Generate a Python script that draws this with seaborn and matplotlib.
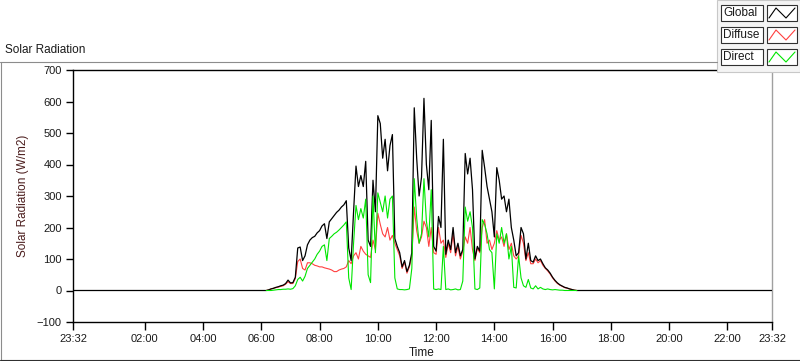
import numpy as np
import pandas as pd
import matplotlib
matplotlib.use("Agg")
import matplotlib.pyplot as plt
import matplotlib.dates as mdates
from matplotlib.ticker import FixedLocator
from matplotlib.lines import Line2D
from matplotlib.patches import Rectangle
import seaborn as sns

# Leituras a cada 5 min, 06:10 -> 16:50 (W/m2)
start_time = "2020-01-01 06:10"
step = "5min"
day_start = "2019-12-31 23:32"
day_end = "2020-01-01 23:32"

global_rad = [
    0, 2, 5, 7, 10, 12, 15, 17, 22, 33,
    24, 25, 42, 135, 138, 95, 110, 145, 160, 168,
    172, 183, 190, 205, 212, 165, 218, 228, 238, 248,
    255, 265, 272, 285, 135, 95, 250, 395, 330, 365,
    330, 410, 160, 140, 350, 250, 555, 530, 420, 480,
    380, 460, 495, 165, 140, 120, 75, 95, 60, 80,
    120, 580, 420, 300, 360, 610, 400, 320, 540, 140,
    125, 235, 200, 480, 115, 160, 130, 200, 120, 150,
    110, 130, 435, 370, 420, 320, 100, 140, 125, 445,
    390, 330, 290, 250, 170, 390, 350, 290, 300, 250,
    290, 200, 160, 110, 120, 200, 180, 100, 150, 95,
    90, 110, 95, 100, 85, 72, 65, 55, 42, 32,
    24, 18, 14, 10, 8, 5, 3, 1, 0,
]
diffuse_rad = [
    0, 2, 5, 7, 9, 11, 13, 15, 20, 28,
    22, 22, 38, 92, 100, 70, 65, 88, 88, 85,
    80, 78, 75, 75, 72, 70, 68, 65, 60, 60,
    65, 68, 70, 75, 95, 85, 110, 120, 100, 140,
    125, 115, 110, 105, 160, 130, 245, 210, 180, 170,
    200, 160, 175, 150, 130, 110, 70, 90, 55, 75,
    110, 265, 190, 150, 170, 220, 200, 140, 200, 120,
    115, 200, 150, 160, 105, 150, 120, 180, 110, 140,
    100, 125, 170, 150, 200, 130, 95, 135, 120, 200,
    225, 150, 160, 130, 150, 190, 160, 170, 140, 180,
    130, 150, 110, 100, 110, 175, 150, 95, 120, 85,
    85, 100, 88, 95, 80, 70, 62, 52, 40, 30,
    22, 17, 13, 9, 7, 5, 3, 1, 0,
]
direct_rad = [
    0, 0, 0, 1, 2, 3, 3, 4, 4, 5,
    4, 6, 15, 35, 42, 30, 45, 70, 80, 90,
    100, 115, 125, 140, 145, 95, 165, 172, 180, 185,
    192, 200, 208, 218, 40, 3, 150, 270, 225, 260,
    230, 290, 50, 25, 300, 120, 310, 280, 250, 300,
    230, 290, 300, 40, 5, 3, 3, 2, 3, 5,
    70, 355, 230, 150, 180, 355, 220, 170, 320, 5,
    3, 5, 3, 140, 3, 5, 2, 3, 5, 2,
    3, 30, 265, 220, 250, 200, 5, 3, 8, 225,
    210, 180, 130, 120, 5, 180, 150, 200, 150, 180,
    100, 140, 10, 8, 110, 40, 15, 10, 35, 8,
    5, 15, 5, 10, 5, 3, 5, 3, 2, 3,
    2, 1, 1, 0, 0, 0, 0, 0, 0,
]

sns.set_theme(style="white")
plt.rcParams["font.family"] = ["Liberation Sans", "DejaVu Sans"]
plt.rcParams["font.size"] = 8

times = pd.date_range(start_time, periods=len(global_rad), freq=step)
t0, t1 = pd.Timestamp(day_start), pd.Timestamp(day_end)

# Global: com zeros noturnos de ponta a ponta
df_global = pd.DataFrame({
    "time": [t0] + list(times) + [t1],
    "value": [0] + global_rad + [0],
})
df_diffuse = pd.DataFrame({"time": times, "value": diffuse_rad})
df_direct = pd.DataFrame({"time": times, "value": direct_rad})

W, H = 800, 361
fig = plt.figure(figsize=(W / 100, H / 100), dpi=100)
fig.patch.set_facecolor("white")
ax = fig.add_axes([73 / W, 1 - 322 / H, (772 - 73) / W, (322 - 70) / H])
ax.set_facecolor("white")

sns.lineplot(data=df_diffuse, x="time", y="value", color="#ff4040", lw=0.8,
             estimator=None, ax=ax, zorder=2)
sns.lineplot(data=df_global, x="time", y="value", color="black", lw=0.9,
             estimator=None, ax=ax, zorder=3)
sns.lineplot(data=df_direct, x="time", y="value", color="#00e600", lw=0.8,
             estimator=None, ax=ax, zorder=4)

ax.set_xlim(t0, t1)
ax.set_ylim(-100, 700)
ax.set_yticks(range(-100, 701, 100))

major = [t0] + list(pd.date_range("2020-01-01 02:00", "2020-01-01 22:00", freq="2h")) + [t1]
minor = pd.date_range("2019-12-31 23:45", "2020-01-01 23:30", freq="15min")
ax.xaxis.set_major_locator(FixedLocator(mdates.date2num(major)))
ax.xaxis.set_minor_locator(FixedLocator(mdates.date2num(minor)))
ax.xaxis.set_major_formatter(mdates.DateFormatter("%H:%M"))

ax.tick_params(axis="both", which="major", direction="out", length=5, width=1,
               color="black", labelsize=8, labelcolor="#1a1a1a", pad=3)
ax.tick_params(axis="x", which="minor", direction="out", length=3, width=1, color="black")
ax.tick_params(axis="x", which="major", length=6)
ax.tick_params(bottom=True, left=True)

for side in ["left", "bottom", "top"]:
    ax.spines[side].set_color("black")
    ax.spines[side].set_linewidth(1)
ax.spines["right"].set_color("#a0a0a0")
ax.spines["right"].set_linewidth(1)

ax.set_xlabel("")
ax.set_ylabel("Solar Radiation (W/m2)", color="#4a1c1c", fontsize=8.5, labelpad=6)
fig.text(422 / W, 1 - 353 / H, "Time", ha="center", va="center", fontsize=8.5, color="#1a1a1a")
fig.text(5 / W, 1 - 50 / H, "Solar Radiation", ha="left", va="center", fontsize=8.5, color="#1a1a1a")

# Moldura do painel
def fline(xs, ys, **kw):
    fig.add_artist(Line2D([x / W for x in xs], [1 - y / H for y in ys],
                          transform=fig.transFigure, **kw))

fline([0, 717], [62, 62], color="#8c8c8c", lw=0.8)
fline([0.5, 0.5], [62, 360], color="#8c8c8c", lw=0.8)
fline([0, 800], [360, 360], color="#303030", lw=0.8)

# Legenda estilo LabVIEW
fig.add_artist(Rectangle((717 / W, 1 - 72 / H), 83 / W, 72 / H, transform=fig.transFigure,
                         facecolor="#f4f4f4", edgecolor="#c8c8c8", lw=0.8))
legend_items = [("Global", "black"), ("Diffuse", "#ff4040"), ("Direct", "#00e600")]
for k, (name, col) in enumerate(legend_items):
    y_top = 5 + 22 * k
    fig.add_artist(Rectangle((721 / W, 1 - (y_top + 16) / H), 42 / W, 16 / H,
                             transform=fig.transFigure, facecolor="white",
                             edgecolor="#303030", lw=0.8))
    fig.text(723 / W, 1 - (y_top + 8) / H, name, ha="left", va="center",
             fontsize=8.5, color="#1a1a1a")
    fig.add_artist(Rectangle((767 / W, 1 - (y_top + 16) / H), 30 / W, 16 / H,
                             transform=fig.transFigure, facecolor="white",
                             edgecolor="#303030", lw=0.8))
    zx = [769, 776, 786, 795]
    zy = [y_top + 13, y_top + 3, y_top + 13, y_top + 3]
    fline(zx, zy, color=col, lw=0.8)

fig.savefig("out.png", dpi=100)
